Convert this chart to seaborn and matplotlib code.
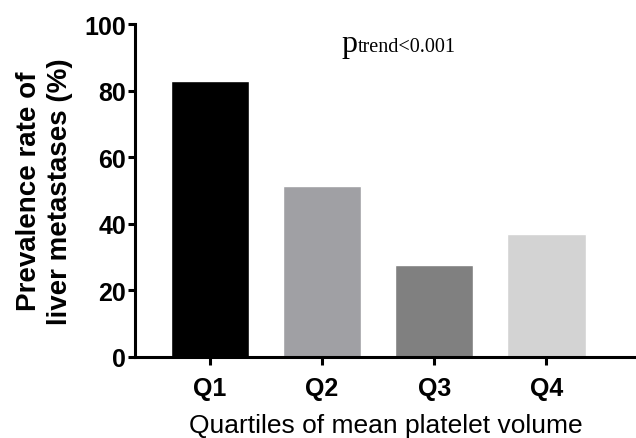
import matplotlib
matplotlib.use("Agg")
import matplotlib.pyplot as plt
import seaborn as sns
import pandas as pd

categories = ["Q1", "Q2", "Q3", "Q4"]
values = [83, 51.3, 27.6, 37]
colors = ["#000000", "#a0a0a4", "#808080", "#d3d3d3"]

sns.set_style("ticks")
plt.rcParams['font.family'] = ['Liberation Sans', 'DejaVu Sans']
plt.rcParams['text.color'] = 'black'
plt.rcParams['axes.labelcolor'] = 'black'
plt.rcParams['xtick.color'] = 'black'
plt.rcParams['ytick.color'] = 'black'

df = pd.DataFrame({"q": categories, "v": values})

fig = plt.figure(figsize=(6.36, 4.39), dpi=100)
ax = fig.add_axes([0.2123, 0.1852, 0.7877, 0.7578])
sns.barplot(data=df, x="q", y="v", hue="q", palette=colors, legend=False,
            width=0.70, ax=ax, saturation=1)

ax.set_ylim(0, 100)
ax.set_xlim(-0.668, 3.8)
ax.set_yticks([0, 20, 40, 60, 80, 100])
for s in ["top", "right"]:
    ax.spines[s].set_visible(False)
for s in ["left", "bottom"]:
    ax.spines[s].set_linewidth(2.2)
    ax.spines[s].set_color("black")
ax.tick_params(axis="y", width=2.2, length=5, labelsize=18, pad=1.5)
ax.tick_params(axis="x", width=2.2, length=6, labelsize=18, pad=8)
for lab in ax.get_xticklabels() + ax.get_yticklabels():
    lab.set_fontweight("bold")
ax.set_ylabel("Prevalence rate of\nliver metastases (%)", fontsize=20,
              fontweight="bold", labelpad=8, linespacing=1.25)
ax.set_xlabel("Quartiles of mean platelet volume", fontsize=19, labelpad=9)

ptxt = ax.text(1.175, 91.9, "p", fontsize=23, family="Liberation Serif",
               ha="left", va="baseline")
fig.canvas.draw()
bb = ptxt.get_window_extent()
xd = ax.transData.inverted().transform((bb.x1, 0))[0]
ax.text(xd, 91.9, "trend<0.001", fontsize=14.5, family="Liberation Serif",
        ha="left", va="baseline")

fig.savefig("out.png", dpi=100)
